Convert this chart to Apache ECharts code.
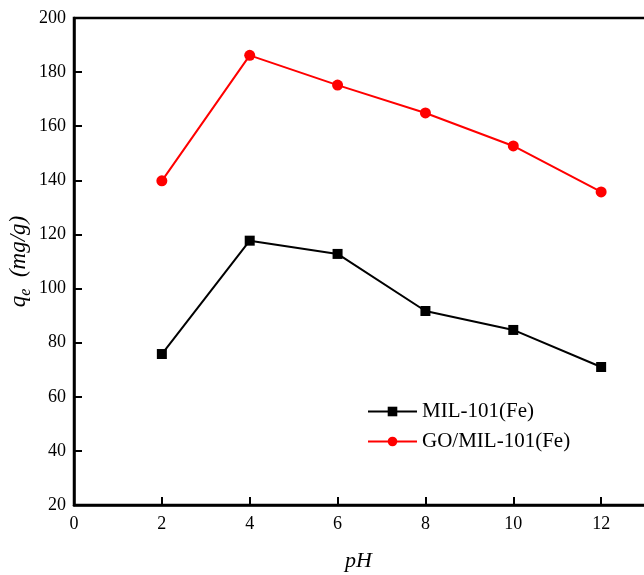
<!DOCTYPE html>
<html><head><meta charset="utf-8">
<script src="https://cdn.jsdelivr.net/npm/echarts@6/dist/echarts.min.js"></script>
<style>html,body{margin:0;padding:0;background:#fff}#c{width:644px;height:575px}</style>
</head><body><div id="c"></div>
<script>
const pH = [2, 4, 6, 8, 10, 12];
const mil = [75.8, 117.7, 112.8, 91.7, 84.7, 71.0];
const goMil = [139.8, 186.2, 175.2, 164.9, 152.7, 135.7];
const names = ['MIL-101(Fe)', 'GO/MIL-101(Fe)'];
const font = 'Liberation Serif';
const chart = echarts.init(document.getElementById('c'));
chart.setOption({
  animation: false,
  backgroundColor: '#fff',
  title: { text: 'pH', left: 345, top: 550, padding: 0,
           textStyle: { fontFamily: font, fontSize: 22, fontStyle: 'italic', fontWeight: 'normal', color: '#000' } },
  grid: { left: 74, top: 18, bottom: 70, width: 615, outerBoundsMode: 'none', containLabel: false,
          show: true, borderColor: '#000', borderWidth: 2.5 },
  legend: {
    left: 367, top: 401, padding: 0, orient: 'vertical', itemWidth: 49, itemHeight: 12, itemGap: 9,
    textStyle: { fontFamily: font, fontSize: 21, color: '#000' },
    data: names
  },
  xAxis: {
    type: 'value', min: 0, max: 14, interval: 2,
    axisLine: { show: true, onZero: false, lineStyle: { color: '#000', width: 2.5 } },
    axisTick: { show: true, inside: true, length: 8, lineStyle: { color: '#000', width: 2 } },
    axisLabel: { fontFamily: font, fontSize: 18, color: '#000', margin: 10 },
    splitLine: { show: false }
  },
  yAxis: {
    type: 'value', min: 20, max: 200, interval: 20,
    name: '{q|q}{e|e}{q|  (mg/g)}', nameLocation: 'middle', nameGap: 40, nameRotate: 90, nameMoveOverlap: false,
    nameTextStyle: { rich: {
      q: { fontFamily: font, fontSize: 23, fontStyle: 'italic', color: '#000' },
      e: { fontFamily: font, fontSize: 16, fontStyle: 'italic', color: '#000', verticalAlign: 'bottom', padding: [14, 0, 0, 0] }
    } },
    axisLine: { show: true, lineStyle: { color: '#000', width: 2.5 } },
    axisTick: { show: true, inside: true, length: 8, lineStyle: { color: '#000', width: 2 } },
    axisLabel: { fontFamily: font, fontSize: 18, color: '#000', margin: 8 },
    splitLine: { show: false }
  },
  series: [
    { name: names[0], type: 'line', data: pH.map((x, i) => [x, mil[i]]),
      symbol: 'rect', symbolSize: 10, color: '#000', lineStyle: { width: 2, color: '#000' }, itemStyle: { color: '#000' } },
    { name: names[1], type: 'line', data: pH.map((x, i) => [x, goMil[i]]),
      symbol: 'circle', symbolSize: 11, color: '#ff0000', lineStyle: { width: 2, color: '#ff0000' }, itemStyle: { color: '#ff0000' } }
  ]
});
</script></body></html>
